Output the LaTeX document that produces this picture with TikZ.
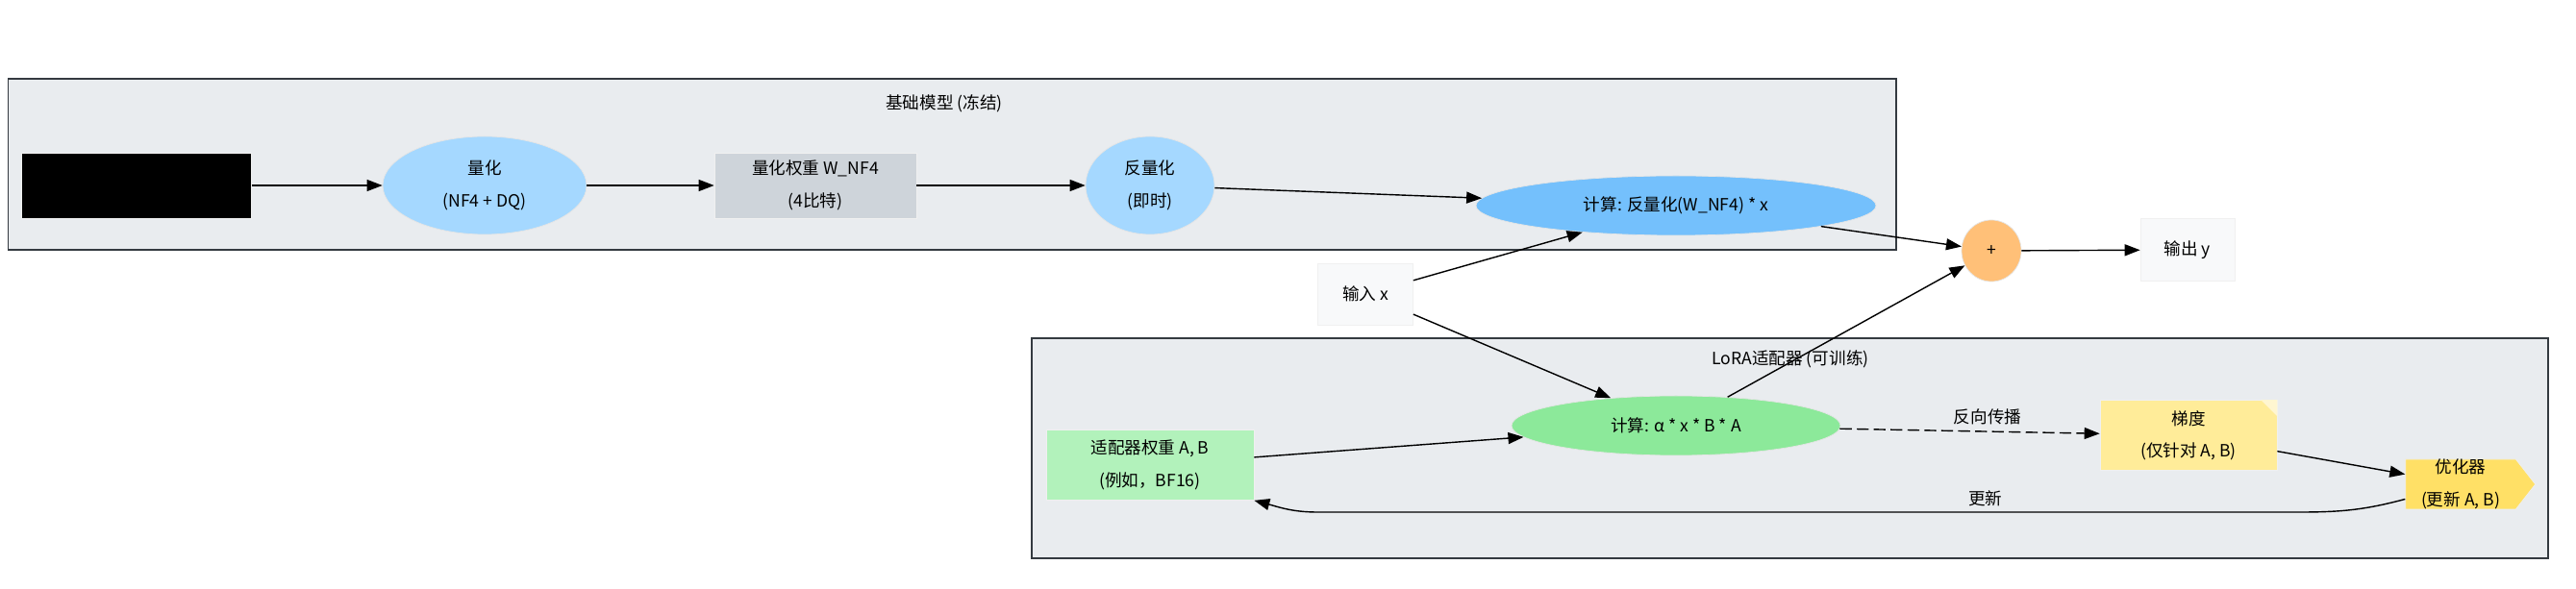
\documentclass[tikz,border=0pt]{standalone}
\usepackage{fontspec}
\setmainfont{Noto Sans CJK SC}
\usepackage{tikz}
\usetikzlibrary{arrows.meta,shapes.geometric,shapes.symbols}
\usepackage{xcolor}
\definecolor{clusterGray}{HTML}{E9ECEF}
\definecolor{clusterLine}{HTML}{343A40}
\definecolor{quantBlue}{HTML}{A5D8FF}
\definecolor{mulBlue}{HTML}{74C0FC}
\definecolor{weightGray}{HTML}{CED4DA}
\definecolor{ioWhite}{HTML}{F8F9FA}
\definecolor{plusOrange}{HTML}{FFC078}
\definecolor{loraGreen}{HTML}{8CE99A}
\definecolor{adapterGreen}{HTML}{B2F2BB}
\definecolor{gradYellow}{HTML}{FFEC99}
\definecolor{optYellow}{HTML}{FFE066}

\begin{document}
\begin{tikzpicture}[>={Triangle[length=3.2mm,width=2.4mm]},font=\fontsize{10}{19}\selectfont]
\tikzstyle{cluster}=[draw=clusterLine,fill=clusterGray,line width=.8pt]
\tikzstyle{oval}=[ellipse,draw=black!10,align=center,inner sep=0pt]
\tikzstyle{box}=[rectangle,draw=black!6,align=center,inner sep=0pt]
\tikzstyle{flow}=[->,line width=.8pt]
\fill[white] (0,0) rectangle (53.58,12.24);
\useasboundingbox (0,0) rectangle (53.58,12.24);
% clusters
\draw[cluster] (0.17,7.04) rectangle (39.44,10.6);
\node (baseTitle) at (19.64,10.08) {基础模型 (冻结)};
\draw[cluster] (21.46,0.62) rectangle (53.0,5.2);
\node (loraTitle) at (37.24,4.76) {LoRA适配器 (可训练)};
% base model
\node[box,fill=black,minimum width=4.78cm,minimum height=1.36cm] (orig) at (2.84,8.38) {};
\node[oval,fill=quantBlue,minimum width=4.24cm,minimum height=2.04cm] (quant) at (10.08,8.38) {量化\\(NF4 + DQ)};
\node[box,fill=weightGray,minimum width=4.2cm,minimum height=1.36cm] (qweight) at (16.96,8.38) {量化权重 W\_NF4\\(4比特)};
\node[oval,fill=quantBlue,minimum width=2.68cm,minimum height=2.04cm] (dequant) at (23.92,8.38) {反量化\\(即时)};
\node[oval,fill=mulBlue,minimum width=8.32cm,minimum height=1.24cm] (baseMul) at (34.86,7.96) {计算: 反量化(W\_NF4) * x};
% input / output
\node[box,fill=ioWhite,minimum width=1.98cm,minimum height=1.28cm] (inX) at (28.4,6.12) {输入 x};
\node[oval,fill=plusOrange,minimum width=1.24cm,minimum height=1.28cm] (plus) at (41.42,7.02) {+};
\node[box,fill=ioWhite,minimum width=1.96cm,minimum height=1.3cm] (outY) at (45.5,7.04) {输出 y};
% lora adapter
\node[box,fill=adapterGreen,minimum width=4.32cm,minimum height=1.46cm] (adapter) at (23.92,2.56) {适配器权重 A, B\\(例如，BF16)};
\node[oval,fill=loraGreen,minimum width=6.84cm,minimum height=1.24cm] (loraMul) at (34.86,3.38) {计算: α * x * B * A};
\node[box,fill=gradYellow,minimum width=3.68cm,minimum height=1.46cm] (grad) at (45.52,3.18) {梯度\\(仅针对 A, B)};
\fill[gradYellow!45!white] (grad.north east) ++(-0.34,0) -- ++(0.34,-0.34) -- ++(0,0.34) -- cycle;
\node[signal,signal to=east,signal pointer angle=104,draw=black!6,fill=optYellow,align=center,inner sep=0pt,minimum width=2.7cm,minimum height=1.04cm] (opt) at (51.18,2.16) {优化器\\(更新 A, B)};
\coordinate (updR) at (47.84,1.58);
\coordinate (updL) at (27.4,1.58);
% connectors
\draw[flow] (orig) -- (quant);
\draw[flow] (quant) -- (qweight);
\draw[flow] (qweight) -- (dequant);
\draw[flow] (dequant) -- (baseMul);
\draw[flow] (inX) -- (baseMul);
\draw[flow] (inX) -- (loraMul);
\draw[flow] (baseMul) -- (plus);
\draw[flow] (loraMul) -- (plus);
\draw[flow] (plus) -- (outY);
\draw[flow] (adapter) -- (loraMul);
\draw[flow,dash pattern=on 7pt off 3pt] (loraMul) -- (grad);
\node (bpLabel) at (41.34,3.56) {反向传播};
\draw[flow] (grad) -- (opt);
\draw[flow] (opt.195) to[out=195,in=0] (updR) -- node[pos=.32,above] (updLabel) {更新} (updL) to[out=180,in=-15] (adapter.south east);
\end{tikzpicture}
\end{document}
